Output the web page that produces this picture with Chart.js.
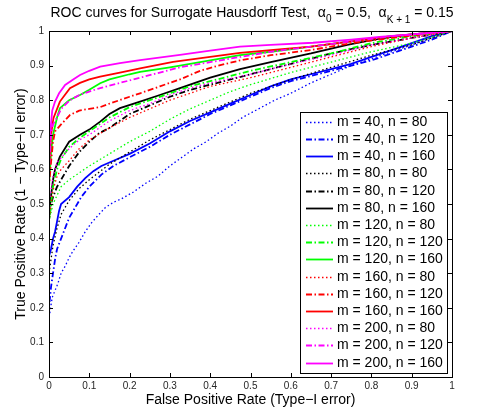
<!DOCTYPE html>
<html><head><meta charset="utf-8">
<script src="https://cdn.jsdelivr.net/npm/chart.js@4"></script>
<style>html,body{margin:0;padding:0;background:#fff}#wrap{width:479px;height:415px}</style>
</head><body><div id="wrap"><canvas id="c" width="479" height="415"></canvas></div>
<script>
// ---- data ----
const xTicks = [0,0.1,0.2,0.3,0.4,0.5,0.6,0.7,0.8,0.9,1];
const yTicks = [0,0.1,0.2,0.3,0.4,0.5,0.6,0.7,0.8,0.9,1];
const seriesLabels = ['m = 40, n = 80','m = 40, n = 120','m = 40, n = 160',
  'm = 80, n = 80','m = 80, n = 120','m = 80, n = 160',
  'm = 120, n = 80','m = 120, n = 120','m = 120, n = 160',
  'm = 160, n = 80','m = 160, n = 120','m = 160, n = 160',
  'm = 200, n = 80','m = 200, n = 120','m = 200, n = 160'];
const seriesColors = ['#0000ff','#0000ff','#0000ff','#000000','#000000','#000000',
  '#00ff00','#00ff00','#00ff00','#ff0000','#ff0000','#ff0000','#ff00ff','#ff00ff','#ff00ff'];
const seriesStyles = ['dot','dashdot','solid','dot','dashdot','solid','dot','dashdot','solid',
  'dot','dashdot','solid','dot','dashdot','solid'];

// [FPR, TPR] pairs
const m40n80 = [[0,0],[0,0.17],[0.004,0.2],[0.008,0.23],[0.015,0.25],[0.022,0.27],[0.03,0.3],[0.04,0.32],[0.05,0.345],[0.06,0.365],[0.075,0.39],[0.09,0.42],[0.105,0.445],[0.12,0.465],[0.14,0.49],[0.16,0.505],[0.18,0.515],[0.21,0.535],[0.24,0.56],[0.27,0.58],[0.3,0.61],[0.33,0.635],[0.36,0.66],[0.39,0.68],[0.42,0.705],[0.45,0.725],[0.48,0.75],[0.52,0.775],[0.56,0.8],[0.6,0.82],[0.65,0.85],[0.7,0.875],[0.75,0.9],[0.8,0.92],[0.85,0.94],[0.9,0.96],[0.95,0.98],[1,1]];
const m40n120 = [[0,0],[0,0.2],[0.005,0.26],[0.01,0.3],[0.015,0.34],[0.02,0.37],[0.03,0.4],[0.04,0.43],[0.05,0.46],[0.06,0.48],[0.08,0.52],[0.1,0.55],[0.13,0.585],[0.16,0.61],[0.2,0.635],[0.25,0.665],[0.3,0.7],[0.35,0.73],[0.4,0.76],[0.45,0.785],[0.5,0.81],[0.55,0.835],[0.6,0.855],[0.65,0.87],[0.7,0.885],[0.75,0.9],[0.8,0.915],[0.85,0.935],[0.9,0.955],[0.95,0.975],[1,1]];
const m40n160 = [[0,0],[0,0.35],[0.005,0.37],[0.01,0.4],[0.015,0.42],[0.02,0.45],[0.025,0.48],[0.03,0.5],[0.05,0.52],[0.07,0.55],[0.09,0.575],[0.11,0.595],[0.13,0.61],[0.16,0.625],[0.2,0.645],[0.25,0.675],[0.3,0.71],[0.35,0.74],[0.4,0.765],[0.45,0.79],[0.5,0.815],[0.55,0.84],[0.6,0.86],[0.65,0.875],[0.7,0.89],[0.75,0.905],[0.8,0.925],[0.85,0.945],[0.9,0.965],[0.95,0.985],[1,1]];
const m80n80 = [[0,0],[0,0.3],[0.01,0.38],[0.02,0.43],[0.03,0.47],[0.05,0.51],[0.075,0.545],[0.1,0.57],[0.15,0.615],[0.2,0.65],[0.25,0.685],[0.3,0.715],[0.35,0.745],[0.4,0.77],[0.45,0.795],[0.5,0.82],[0.6,0.86],[0.7,0.895],[0.8,0.93],[0.9,0.96],[1,1]];
const m80n120 = [[0,0],[0,0.45],[0.005,0.5],[0.01,0.52],[0.02,0.55],[0.03,0.57],[0.05,0.61],[0.075,0.65],[0.1,0.68],[0.125,0.705],[0.15,0.72],[0.2,0.76],[0.25,0.785],[0.3,0.81],[0.35,0.83],[0.4,0.845],[0.45,0.86],[0.5,0.875],[0.6,0.905],[0.7,0.935],[0.8,0.96],[0.9,0.98],[1,1]];
const m80n160 = [[0,0],[0,0.48],[0.0025,0.5],[0.01,0.57],[0.015,0.6],[0.027,0.637],[0.05,0.68],[0.077,0.7],[0.1,0.715],[0.127,0.738],[0.15,0.76],[0.176,0.777],[0.226,0.796],[0.275,0.815],[0.325,0.835],[0.4,0.865],[0.474,0.89],[0.55,0.91],[0.65,0.935],[0.74,0.96],[0.82,0.978],[0.9,0.99],[1,1]];
const m120n80 = [[0,0],[0,0.45],[0.01,0.5],[0.03,0.55],[0.05,0.57],[0.075,0.59],[0.1,0.61],[0.15,0.645],[0.2,0.68],[0.25,0.71],[0.3,0.745],[0.35,0.775],[0.4,0.8],[0.45,0.825],[0.5,0.845],[0.6,0.88],[0.7,0.91],[0.8,0.94],[0.9,0.965],[1,1]];
const m120n120 = [[0,0],[0,0.45],[0.01,0.55],[0.02,0.6],[0.03,0.63],[0.05,0.665],[0.075,0.69],[0.1,0.71],[0.15,0.75],[0.2,0.78],[0.25,0.8],[0.3,0.82],[0.35,0.84],[0.4,0.855],[0.5,0.885],[0.6,0.91],[0.7,0.935],[0.8,0.965],[0.9,0.985],[1,1]];
const m120n160 = [[0,0],[0,0.55],[0.005,0.65],[0.01,0.7],[0.02,0.75],[0.027,0.777],[0.05,0.8],[0.077,0.815],[0.1,0.83],[0.127,0.849],[0.15,0.86],[0.2,0.875],[0.226,0.882],[0.3,0.895],[0.35,0.905],[0.4,0.915],[0.474,0.93],[0.55,0.94],[0.65,0.955],[0.75,0.97],[0.85,0.985],[1,1]];
const m160n80 = [[0,0],[0,0.45],[0.005,0.5],[0.01,0.54],[0.02,0.58],[0.03,0.6],[0.05,0.625],[0.075,0.66],[0.1,0.685],[0.15,0.72],[0.2,0.75],[0.25,0.775],[0.3,0.8],[0.35,0.82],[0.4,0.84],[0.5,0.865],[0.6,0.895],[0.7,0.925],[0.8,0.955],[0.9,0.98],[1,1]];
const m160n120 = [[0,0],[0,0.55],[0.005,0.62],[0.01,0.68],[0.015,0.71],[0.03,0.73],[0.052,0.757],[0.075,0.77],[0.1,0.775],[0.127,0.78],[0.15,0.79],[0.2,0.81],[0.226,0.82],[0.275,0.84],[0.325,0.86],[0.375,0.885],[0.42,0.9],[0.474,0.915],[0.55,0.93],[0.65,0.945],[0.75,0.965],[0.85,0.98],[1,1]];
const m160n160 = [[0,0],[0,0.6],[0.005,0.7],[0.011,0.748],[0.027,0.796],[0.052,0.835],[0.077,0.85],[0.1,0.86],[0.127,0.868],[0.176,0.88],[0.226,0.892],[0.308,0.911],[0.4,0.925],[0.474,0.937],[0.55,0.945],[0.65,0.955],[0.75,0.97],[0.85,0.985],[1,1]];
const m200n80 = [[0,0],[0,0.5],[0.01,0.58],[0.02,0.62],[0.05,0.66],[0.075,0.685],[0.1,0.7],[0.15,0.74],[0.2,0.77],[0.25,0.79],[0.3,0.815],[0.35,0.835],[0.4,0.85],[0.5,0.875],[0.6,0.905],[0.7,0.93],[0.8,0.96],[0.9,0.98],[1,1]];
const m200n120 = [[0,0],[0,0.6],[0.005,0.7],[0.01,0.73],[0.02,0.75],[0.03,0.775],[0.052,0.8],[0.075,0.815],[0.1,0.825],[0.127,0.835],[0.176,0.85],[0.226,0.865],[0.275,0.88],[0.325,0.895],[0.4,0.91],[0.474,0.925],[0.55,0.94],[0.65,0.955],[0.75,0.97],[0.85,0.985],[1,1]];
const m200n160 = [[0,0],[0,0.62],[0.0025,0.7],[0.008,0.77],[0.015,0.796],[0.025,0.82],[0.04,0.844],[0.06,0.86],[0.077,0.873],[0.1,0.885],[0.127,0.897],[0.176,0.907],[0.226,0.916],[0.325,0.931],[0.4,0.943],[0.474,0.955],[0.55,0.96],[0.655,0.966],[0.75,0.975],[0.82,0.983],[0.9,0.99],[1,1]];
const seriesData = [m40n80,m40n120,m40n160,m80n80,m80n120,m80n160,m120n80,m120n120,m120n160,m160n80,m160n120,m160n160,m200n80,m200n120,m200n160];

// ---- styling ----
const FONT = '"Liberation Sans", Arial, Helvetica, sans-serif';
function dashFor(s){ return s==='dot' ? [1.5,2.5] : s==='dashdot' ? [6,2.5,1.5,2.5] : []; }
function widthFor(s){ return s==='dot' ? 1.3 : 1.8; }

const datasets = seriesData.map((pts,i)=>({
  label: seriesLabels[i],
  data: pts.map(p=>({x:p[0],y:p[1]})),
  borderColor: seriesColors[i],
  backgroundColor: seriesColors[i],
  borderWidth: widthFor(seriesStyles[i]),
  borderDash: dashFor(seriesStyles[i]),
  showLine: true, pointRadius: 0, tension: 0, fill: false,
  order: -i
}));

const PLOT = {left:49, right:452, top:31, bottom:377};

const decor = {
  id: 'decor',
  afterDatasetsDraw(chart){
    const ctx = chart.ctx, ca = chart.chartArea;
    const xs = chart.scales.x, ys = chart.scales.y;
    ctx.save();
    // axes box
    ctx.strokeStyle = '#000'; ctx.lineWidth = 1; ctx.setLineDash([]);
    ctx.strokeRect(Math.round(ca.left)+0.5, Math.round(ca.top)+0.5, Math.round(ca.right-ca.left), Math.round(ca.bottom-ca.top));
    // inward ticks
    const tl = 4;
    ctx.beginPath();
    xTicks.forEach(v=>{
      const px = Math.round(xs.getPixelForValue(v))+0.5;
      ctx.moveTo(px, ca.bottom); ctx.lineTo(px, ca.bottom-tl);
      ctx.moveTo(px, ca.top); ctx.lineTo(px, ca.top+tl);
    });
    yTicks.forEach(v=>{
      const py = Math.round(ys.getPixelForValue(v))+0.5;
      ctx.moveTo(ca.left, py); ctx.lineTo(ca.left+tl, py);
      ctx.moveTo(ca.right, py); ctx.lineTo(ca.right-tl, py);
    });
    ctx.stroke();
    // legend
    const lx = 300.5, ly = 112.5, lw = 147, lh = 261;
    ctx.fillStyle = '#fff'; ctx.fillRect(lx, ly, lw, lh);
    ctx.strokeStyle = '#000'; ctx.lineWidth = 1; ctx.strokeRect(lx, ly, lw, lh);
    ctx.font = '14px ' + FONT; ctx.textBaseline = 'middle'; ctx.textAlign = 'left';
    chart.data.datasets.forEach((ds,i)=>{
      const y = Math.round(121.7 + i*17.21) + 0.5;
      ctx.beginPath();
      ctx.strokeStyle = ds.borderColor; ctx.lineWidth = ds.borderWidth;
      ctx.setLineDash(ds.borderDash);
      ctx.moveTo(306, y); ctx.lineTo(333, y); ctx.stroke();
      ctx.setLineDash([]);
      ctx.fillStyle = '#000';
      ctx.fillText(ds.label, 337, y);
    });
    ctx.restore();
  },
  afterDraw(chart){
    const ctx = chart.ctx;
    ctx.save();
    const big = '14px ' + FONT, small = '10px ' + FONT;
    const segs = [
      {t:'ROC curves for Surrogate Hausdorff Test,  \u03b1', f:big, dy:0},
      {t:'0', f:small, dy:5},
      {t:' = 0.5,  \u03b1', f:big, dy:0},
      {t:'K + 1', f:small, dy:6},
      {t:' = 0.15', f:big, dy:0}
    ];
    let total = 0;
    segs.forEach(s=>{ ctx.font = s.f; s.w = ctx.measureText(s.t).width; total += s.w; });
    let x = 252 - total/2;
    ctx.fillStyle = '#000'; ctx.textBaseline = 'alphabetic'; ctx.textAlign = 'left';
    segs.forEach(s=>{ ctx.font = s.f; ctx.fillText(s.t, x, 17 + s.dy); x += s.w; });
    ctx.restore();
  }
};

const tickFmt = v => String(Math.round(v*10)/10);

new Chart(document.getElementById('c'), {
  type: 'scatter',
  data: { datasets },
  options: {
    responsive: false, animation: false, devicePixelRatio: 1,
    layout: { padding: { left: 0, top: PLOT.top, right: 479-PLOT.right, bottom: 0 } },
    plugins: { legend: { display: false }, tooltip: { enabled: false }, title: { display: false } },
    elements: { line: { capBezierPoints: false } },
    scales: {
      x: {
        type: 'linear', min: 0, max: 1,
        afterFit: s => { s.height = 415 - PLOT.bottom; },
        afterBuildTicks: s => { s.ticks = xTicks.map(v=>({value:v})); },
        grid: { display: false, drawTicks: false },
        border: { display: false },
        ticks: { padding: 3, autoSkip: false, maxRotation: 0, color: '#262626', font: { family: FONT, size: 10 }, callback: tickFmt },
        title: { display: true, text: 'False Positive Rate (Type\u2212I error)', color: '#000', font: { family: FONT, size: 14 }, padding: { top: 0, bottom: 6 } }
      },
      y: {
        type: 'linear', min: 0, max: 1,
        afterFit: s => { s.width = PLOT.left; },
        afterBuildTicks: s => { s.ticks = yTicks.map(v=>({value:v})); },
        grid: { display: false, drawTicks: false },
        border: { display: false },
        ticks: { padding: 5, autoSkip: false, color: '#262626', font: { family: FONT, size: 10 }, callback: tickFmt },
        title: { display: true, text: 'True Positive Rate (1 \u2212 Type\u2212II error)', color: '#000', font: { family: FONT, size: 14 }, padding: { top: 13, bottom: 0 } }
      }
    }
  },
  plugins: [decor]
});
</script>
</body></html>
